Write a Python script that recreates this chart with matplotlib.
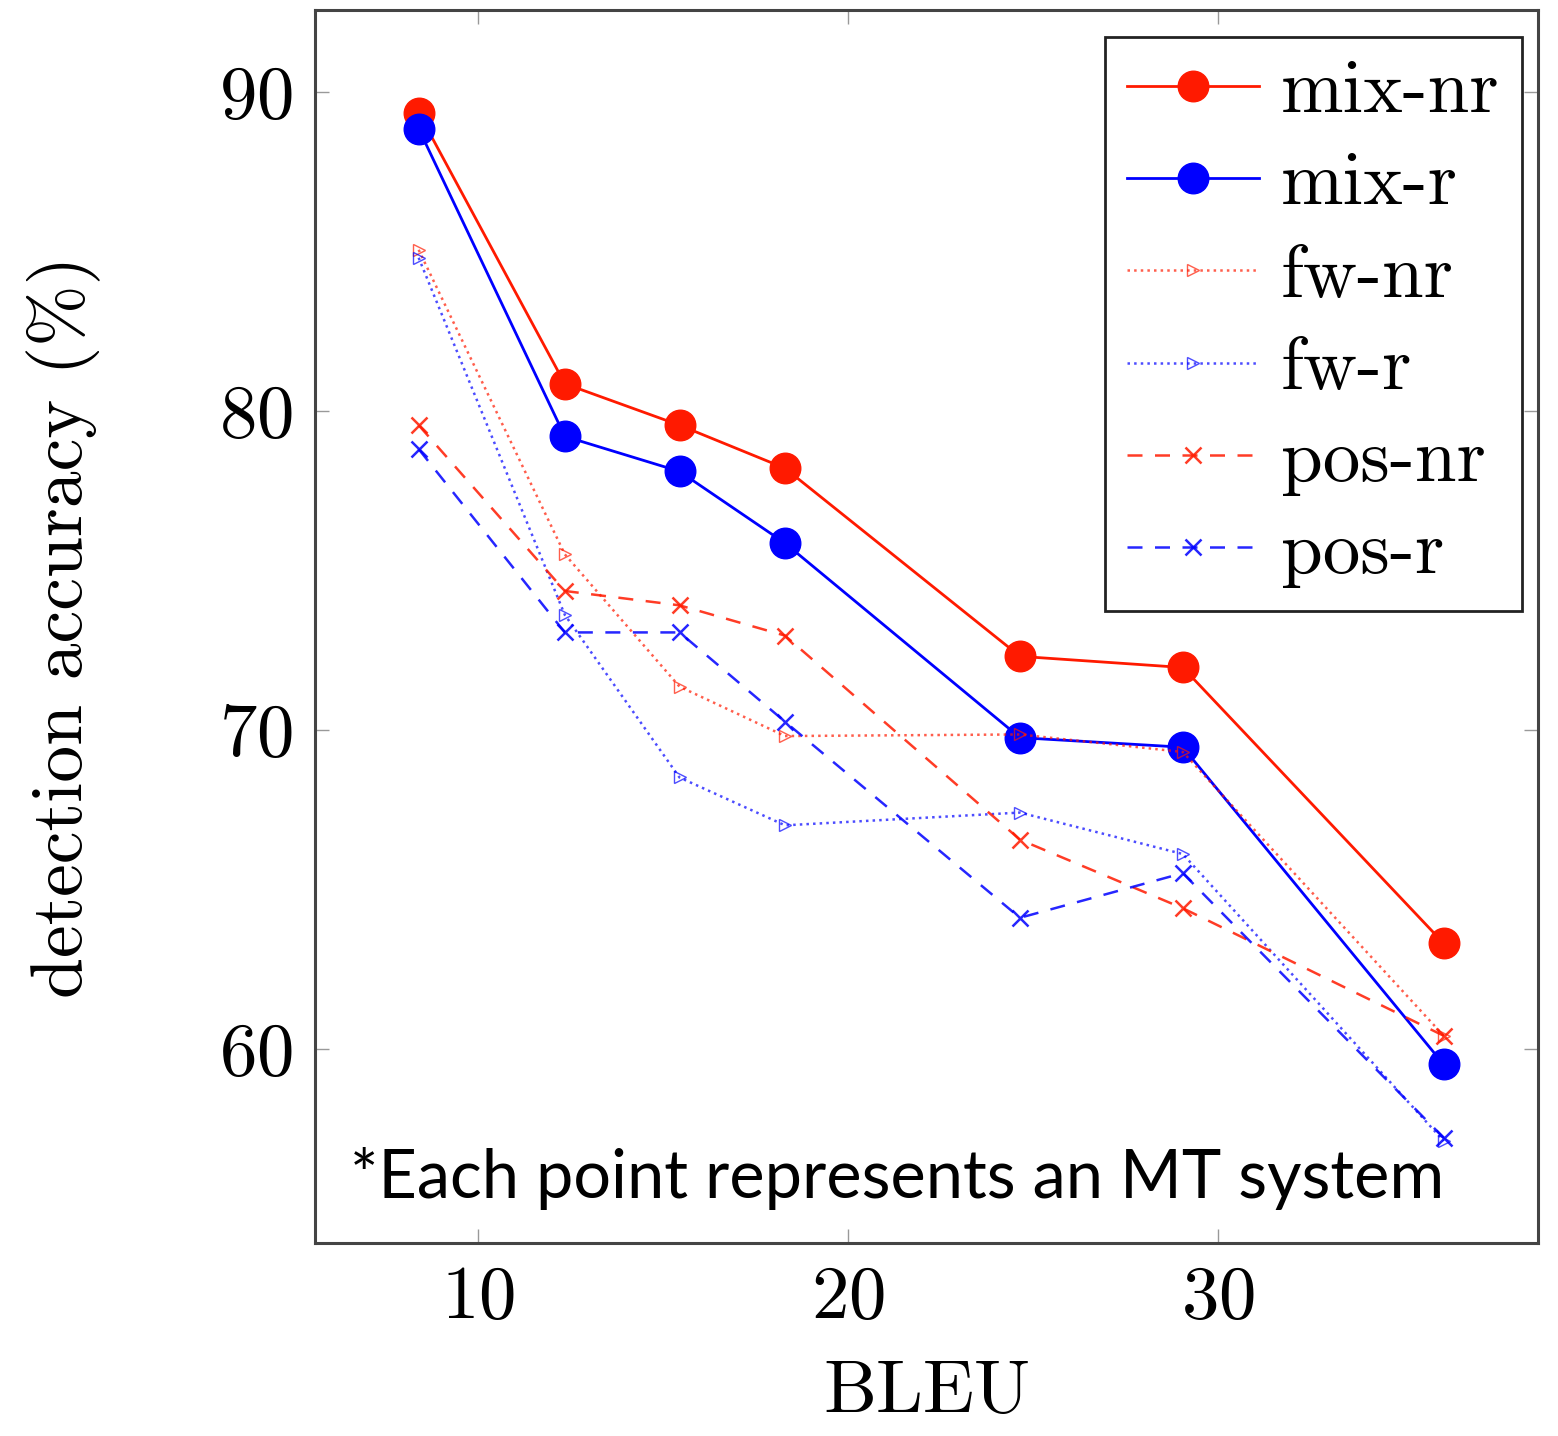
import matplotlib
matplotlib.use('Agg')
import matplotlib.pyplot as plt

# BLEU of each MT system
bleu = [8.4, 12.35, 15.45, 18.3, 24.65, 29.05, 36.1]

mix_nr = [89.35, 80.85, 79.55, 78.2, 72.3, 71.95, 63.3]
mix_r = [88.85, 79.2, 78.1, 75.85, 69.75, 69.45, 59.5]
fw_nr = [85.05, 75.5, 71.35, 69.8, 69.85, 69.3, 60.4]
fw_r = [84.8, 73.6, 68.5, 67.0, 67.4, 66.1, 57.1]
pos_nr = [79.55, 74.35, 73.9, 72.95, 66.55, 64.4, 60.4]
pos_r = [78.8, 73.05, 73.05, 70.25, 64.1, 65.5, 57.2]

labels = ['mix-nr', 'mix-r', 'fw-nr', 'fw-r', 'pos-nr', 'pos-r']

plt.rcParams['font.family'] = ['cmr10', 'DejaVu Serif']
plt.rcParams['axes.formatter.use_mathtext'] = True

fig = plt.figure(figsize=(15.58, 14.36), dpi=100)
ax = fig.add_axes([0.2022, 0.1344, 0.785, 0.8586])

red = '#ff1a00'
blue = '#0000ff'

ax.plot(bleu, mix_nr, color=red, lw=2, marker='o', ms=22, label=labels[0])
ax.plot(bleu, mix_r, color=blue, lw=2, marker='o', ms=22, label=labels[1])
ax.plot(bleu, fw_nr, color=red, lw=1.8, ls=':', marker='>', ms=8, mfc='none',
        alpha=0.7, label=labels[2])
ax.plot(bleu, fw_r, color=blue, lw=1.8, ls=':', marker='>', ms=8, mfc='none',
        alpha=0.7, label=labels[3])
ax.plot(bleu, pos_nr, color=red, lw=1.8, ls=(0, (6, 5)), marker='x', ms=12,
        mew=1.8, alpha=0.85, label=labels[4])
ax.plot(bleu, pos_r, color=blue, lw=1.8, ls=(0, (6, 5)), marker='x', ms=12,
        mew=1.8, alpha=0.85, label=labels[5])

ax.set_xlim(5.6, 38.65)
ax.set_ylim(53.9, 92.57)
ax.set_xticks([10, 20, 30])
ax.set_yticks([60, 70, 80, 90])

ax.tick_params(direction='in', length=10, width=1, color='#999999',
               labelsize=54, top=True, right=True, pad=16)
for s in ax.spines.values():
    s.set_linewidth(2.2)
    s.set_color('#444444')

ax.set_xlabel('BLEU', fontsize=54, labelpad=20)
ax.set_ylabel('detection accuracy (%)', fontsize=53, labelpad=85)

leg = ax.legend(loc='upper right', fontsize=54, handlelength=1.75,
                labelspacing=0.33, borderpad=0.3, handletextpad=0.3,
                borderaxespad=0, fancybox=False, framealpha=1,
                edgecolor='#222222', bbox_to_anchor=(0.987, 0.978))
leg.get_frame().set_linewidth(2)

ax.text(0.029, 0.052, '*Each point represents an MT system', transform=ax.transAxes,
        fontsize=48, family=['Lato', 'DejaVu Sans'], va='center', ha='left')

fig.savefig('out.png', dpi=100)
